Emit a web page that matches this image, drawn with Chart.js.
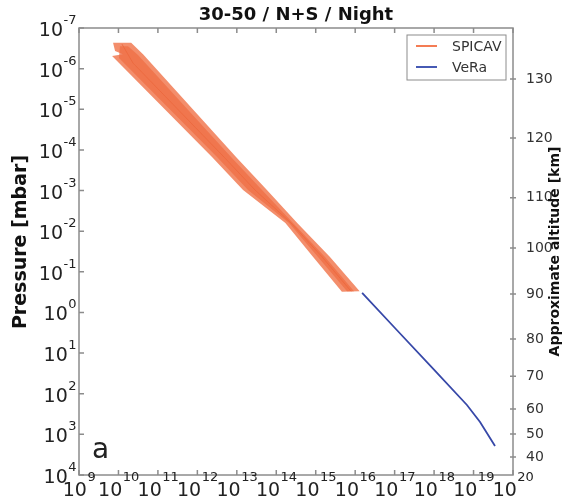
<!DOCTYPE html>
<html>
<head>
<meta charset="utf-8">
<script src="https://cdn.jsdelivr.net/npm/chart.js@4"></script>
<style>
    body { margin: 0; background: #fff; }
</style>
</head>
<body>
<canvas id="m_chart_pressure" width="565" height="500"></canvas>
<script>
// SPICAV mean profile: number density [cm-3] vs pressure [mbar]
var spicavX = [1.23e10, 2.34e10, 4.74e12, 2.89e13, 2.37e14, 1.45e15, 7.85e15];
var spicavP = [2.5e-7, 7.3e-7, 1.5e-4, 9.7e-4, 6.3e-3, 4.3e-2, 0.30];

// SPICAV spread, outer outline (down the right edge, back up the left edge)
var spicavOuterX = [7.3e9, 2.1e10, 4.2e10, 9.55e12, 5.8e13, 3.4e14, 2.3e15, 1.3e16,
    4.6e15, 8.6e14, 1.7e14, 1.44e13, 2.35e12, 6.9e9, 1.3e10, 8.2e9];
var spicavOuterP = [2.3e-7, 2.3e-7, 4.4e-7, 1.5e-4, 9.7e-4, 6.3e-3, 4.3e-2, 0.30,
    0.31, 4.3e-2, 6.3e-3, 9.7e-4, 1.5e-4, 4.9e-7, 4.4e-7, 3.7e-7];

// SPICAV spread, inner (overlap) outline
var spicavInnerX = [1.09e10, 1.75e10, 3.13e10, 7.13e12, 4.35e13, 2.66e14, 1.72e15, 9.35e15,
    6.2e15, 1.14e15, 2.1e14, 1.92e13, 3.15e12, 1.03e10];
var spicavInnerP = [2.8e-7, 2.8e-7, 4.6e-7, 1.5e-4, 9.7e-4, 6.3e-3, 4.3e-2, 0.30,
    0.30, 4.3e-2, 6.3e-3, 9.7e-4, 1.5e-4, 5.5e-7];

// VeRa radio occultation profile
var veraX = [1.5e16, 1.15e17, 9.4e17, 6.8e18, 1.46e19, 3.5e19];
var veraP = [0.33, 2.74, 24, 189, 495, 1930];

// tick labels
var xExponents = [9, 10, 11, 12, 13, 14, 15, 16, 17, 18, 19, 20];
var pExponents = [-7, -6, -5, -4, -3, -2, -1, 0, 1, 2, 3, 4];
var altitudeKm = [130, 120, 110, 100, 90, 80, 70, 60, 50, 40];
var altitudeP = [1.8e-6, 5.1e-5, 1.5e-3, 2.6e-2, 0.35, 4.5, 37, 237, 980, 3600];

var chartTitle = '30-50 / N+S / Night';
var leftTitle = 'Pressure [mbar]';
var rightTitle = 'Approximate altitude [km]';
var panelLetter = 'a';

var FONT = '"DejaVu Sans", sans-serif';
var toPoints = function (xs, ys) {
    return xs.map(function (x, i) { return { x: x, y: ys[i] }; });
};

// "10" with a raised exponent; y is the baseline of "10"
var drawPow10 = function (ctx, e, x, y, align, rise) {
    ctx.font = '19px ' + FONT;
    var w1 = ctx.measureText('10').width;
    ctx.font = '13px ' + FONT;
    var w2 = ctx.measureText(String(e)).width;
    var start = align === 'center' ? x - (w1 + w2) / 2 : x - w1 - w2;
    ctx.font = '19px ' + FONT;
    ctx.fillText('10', start, y);
    ctx.font = '13px ' + FONT;
    ctx.fillText(String(e), start + w1 + 0.5, y - rise);
};

var decorPlugin = {
    id: 'decor',
    afterDraw: function (chart) {
        var ctx = chart.ctx;
        var a = chart.chartArea;
        var sx = chart.scales.x, sy = chart.scales.y, s2 = chart.scales.y2;
        ctx.save();
        ctx.strokeStyle = '#8c8c8c';
        ctx.lineWidth = 1.5;
        ctx.strokeRect(a.left, a.top, a.right - a.left, a.bottom - a.top);
        ctx.beginPath();
        sx.ticks.forEach(function (t) {
            var px = sx.getPixelForValue(t.value);
            ctx.moveTo(px, a.bottom); ctx.lineTo(px, a.bottom - 5);
            ctx.moveTo(px, a.top); ctx.lineTo(px, a.top + 5);
        });
        sy.ticks.forEach(function (t) {
            var py = sy.getPixelForValue(t.value);
            ctx.moveTo(a.left, py); ctx.lineTo(a.left + 5, py);
        });
        s2.ticks.forEach(function (t) {
            var py = s2.getPixelForValue(t.value);
            ctx.moveTo(a.right - 3, py); ctx.lineTo(a.right + 3, py);
        });
        ctx.stroke();

        // decade labels
        ctx.fillStyle = '#222';
        ctx.textAlign = 'left';
        ctx.textBaseline = 'alphabetic';
        sx.ticks.forEach(function (t, i) {
            drawPow10(ctx, xExponents[i], sx.getPixelForValue(t.value), a.bottom + 21, 'center', 15);
        });
        sy.ticks.forEach(function (t, i) {
            drawPow10(ctx, pExponents[i], a.left - 3, sy.getPixelForValue(t.value) + 8, 'right', 12);
        });

        ctx.fillStyle = '#111';
        ctx.textAlign = 'center';
        ctx.textBaseline = 'middle';
        ctx.font = 'bold 18px ' + FONT;
        ctx.fillText(chartTitle, (a.left + a.right) / 2, 15);

        ctx.save();
        ctx.translate(21, 242);
        ctx.rotate(-Math.PI / 2);
        ctx.font = 'bold 19px ' + FONT;
        ctx.fillText(leftTitle, 0, 0);
        ctx.restore();

        ctx.save();
        ctx.translate(555, (a.top + a.bottom) / 2);
        ctx.rotate(-Math.PI / 2);
        ctx.font = 'bold 14px ' + FONT;
        ctx.fillText(rightTitle, 0, 0);
        ctx.restore();

        ctx.textAlign = 'left';
        ctx.font = '28px ' + FONT;
        ctx.fillStyle = '#222';
        ctx.fillText(panelLetter, a.left + 13, a.bottom - 24);

        // legend box
        var bx = a.right - 106, by = a.top + 7;
        ctx.fillStyle = '#fff';
        ctx.fillRect(bx, by, 99, 45);
        ctx.strokeStyle = '#8c8c8c';
        ctx.lineWidth = 1;
        ctx.strokeRect(bx, by, 99, 45);
        ctx.font = '14px ' + FONT;
        var items = chart.data.datasets.filter(function (d) { return d.legendColor; });
        items.forEach(function (d, i) {
            var ly = by + 11 + i * 21;
            ctx.strokeStyle = d.legendColor;
            ctx.lineWidth = 2;
            ctx.beginPath();
            ctx.moveTo(bx + 9, ly); ctx.lineTo(bx + 30, ly);
            ctx.stroke();
            ctx.fillStyle = '#333';
            ctx.fillText(d.label, bx + 45, ly + 1);
        });
        ctx.restore();
    }
};

new Chart(document.getElementById('m_chart_pressure'), {
    type: 'scatter',
    data: {
        datasets: [{
            label: 'SPICAV spread',
            data: toPoints(spicavOuterX, spicavOuterP),
            showLine: true,
            fill: 'shape',
            backgroundColor: 'rgba(240,110,66,0.78)',
            borderWidth: 0,
            pointRadius: 0
        }, {
            label: 'SPICAV overlap',
            data: toPoints(spicavInnerX, spicavInnerP),
            showLine: true,
            fill: 'shape',
            backgroundColor: 'rgba(232,88,45,0.65)',
            borderWidth: 0,
            pointRadius: 0
        }, {
            label: 'SPICAV',
            data: toPoints(spicavX, spicavP),
            showLine: true,
            fill: false,
            borderColor: 'rgba(212,62,30,0.8)',
            borderWidth: 1,
            pointRadius: 0,
            legendColor: 'rgb(244,124,84)'
        }, {
            label: 'VeRa',
            data: toPoints(veraX, veraP),
            showLine: true,
            fill: false,
            borderColor: 'rgb(55,72,168)',
            borderWidth: 1.8,
            pointRadius: 0,
            legendColor: 'rgb(70,90,180)'
        }]
    },
    options: {
        responsive: false,
        animation: false,
        layout: { padding: { top: 28, left: 0, right: 0, bottom: 0 } },
        plugins: {
            legend: { display: false },
            title: { display: false },
            tooltip: { enabled: false }
        },
        scales: {
            x: {
                type: 'logarithmic',
                position: 'bottom',
                min: 1e9,
                max: 1e20,
                grid: { display: false },
                border: { display: false },
                ticks: { display: false },
                afterBuildTicks: function (axis) {
                    axis.ticks = xExponents.map(function (e) { return { value: Math.pow(10, e) }; });
                },
                afterFit: function (axis) { axis.height = 25; }
            },
            y: {
                type: 'logarithmic',
                position: 'left',
                reverse: true,
                min: 1e-7,
                max: 1e4,
                grid: { display: false },
                border: { display: false },
                ticks: { display: false },
                afterBuildTicks: function (axis) {
                    axis.ticks = pExponents.map(function (e) { return { value: Math.pow(10, e) }; });
                },
                afterFit: function (axis) { axis.width = 79; }
            },
            y2: {
                type: 'logarithmic',
                position: 'right',
                reverse: true,
                min: 1e-7,
                max: 1e4,
                grid: { display: false },
                border: { display: false },
                afterBuildTicks: function (axis) {
                    axis.ticks = altitudeP.map(function (p) { return { value: p }; });
                },
                afterFit: function (axis) { axis.width = 52; },
                ticks: {
                    autoSkip: false, padding: 5, color: '#333',
                    font: { family: FONT, size: 14 },
                    callback: function (v, i) { return String(altitudeKm[i]); }
                }
            }
        }
    },
    plugins: [decorPlugin]
});
</script>
</body>
</html>
